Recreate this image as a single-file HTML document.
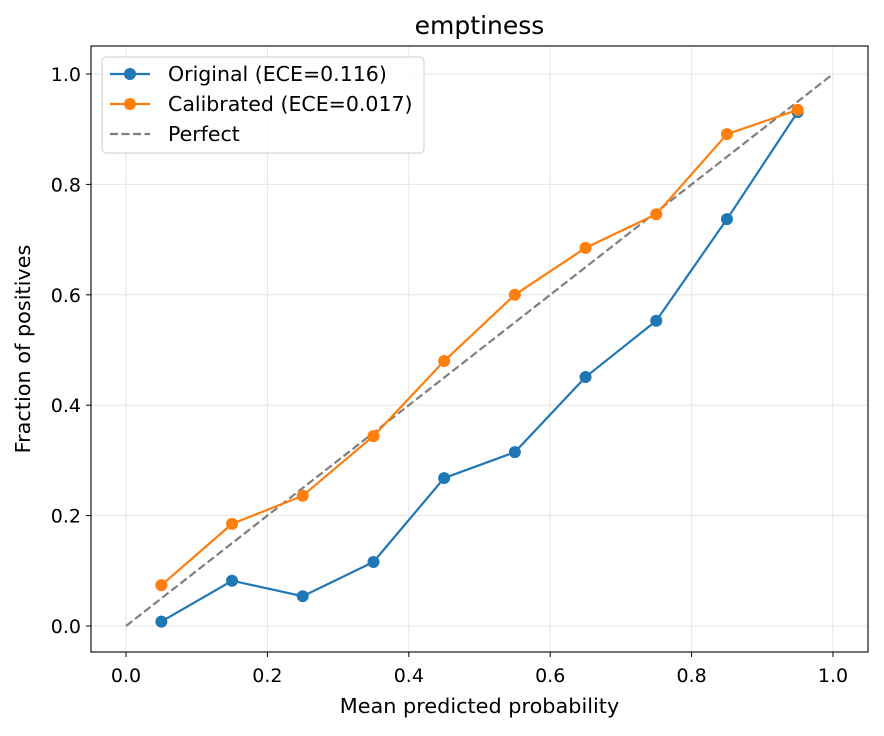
<!DOCTYPE html>
<html><head><meta charset="utf-8"><style>
body{margin:0;background:#fff;font-family:"Liberation Sans","DejaVu Sans",sans-serif;}
svg text{font-family:"DejaVu Sans","Liberation Sans",sans-serif;}
</style></head><body>
<svg id="chart" width="884" height="731" viewBox="0 0 884 731" xmlns="http://www.w3.org/2000/svg">
<rect width="884" height="731" fill="#fff"/>
<g id="grid"></g>
<g id="axes"></g>
<g id="series"></g>
<rect x="91" y="46" width="777" height="606" fill="none" stroke="#000" stroke-width="1.1"/>
<text x="479.5" y="34" font-size="25" text-anchor="middle">emptiness</text>
<text x="479.5" y="713" font-size="20.8" text-anchor="middle">Mean predicted probability</text>
<text x="30" y="349" font-size="20.8" text-anchor="middle" transform="rotate(-90 30 349)">Fraction of positives</text>
<g>
<rect x="102" y="57" width="322" height="96" rx="4" fill="#fff" fill-opacity="0.8" stroke="#ccc"/>
<g><line x1="110" y1="74" x2="150" y2="74" stroke="#1f77b4" stroke-width="2.2"/><circle cx="130" cy="74" r="6" fill="#1f77b4"/><text x="168" y="81" font-size="20.5">Original (ECE=0.116)</text></g>
<g><line x1="110" y1="104" x2="150" y2="104" stroke="#ff7f0e" stroke-width="2.2"/><circle cx="130" cy="104" r="6" fill="#ff7f0e"/><text x="168" y="111" font-size="20.5">Calibrated (ECE=0.017)</text></g>
<g><line x1="110" y1="134" x2="150" y2="134" stroke="#7f7f7f" stroke-width="2.2" stroke-dasharray="8,3.5"/><text x="168" y="141" font-size="20.5">Perfect</text></g>
</g>
</svg>
<script>
const binCenters=[0.05,0.15,0.25,0.35,0.45,0.55,0.65,0.75,0.85,0.95];
const originalValues=[0.008,0.082,0.054,0.116,0.268,0.315,0.451,0.553,0.737,0.931];
const calibratedValues=[0.074,0.185,0.236,0.344,0.48,0.6,0.685,0.746,0.891,0.935];
const perfectX=[0,1];
const perfectY=[0,1];
const xTicks=[0,0.2,0.4,0.6,0.8,1.0];
const yTicks=[0,0.2,0.4,0.6,0.8,1.0];
const NS="http://www.w3.org/2000/svg";
const sx=v=>126+v*707, sy=v=>626-v*552;
function mk(tag,attrs,parent){const e=document.createElementNS(NS,tag);for(const k in attrs)e.setAttribute(k,attrs[k]);parent.appendChild(e);return e;}
const grid=document.getElementById('grid'),axes=document.getElementById('axes'),ser=document.getElementById('series');
xTicks.forEach(t=>{
 const g=mk('line',{x1:sx(t),x2:sx(t),y1:46,y2:652,stroke:'#e5e5e5','stroke-width':1},grid);
 
 
 const tk=mk('line',{x1:sx(t),x2:sx(t),y1:652,y2:657,stroke:'#000'},axes);
 
 
 const l=mk('text',{x:sx(t),y:682,'font-size':19,'text-anchor':'middle'},axes);l.textContent=t.toFixed(1);
 
 
});
yTicks.forEach(t=>{
 const g=mk('line',{x1:91,x2:868,y1:sy(t),y2:sy(t),stroke:'#e5e5e5','stroke-width':1},grid);
 
 
 const tk=mk('line',{x1:86,x2:91,y1:sy(t),y2:sy(t),stroke:'#000'},axes);
 
 
 const l=mk('text',{x:81,y:sy(t)+7,'font-size':19,'text-anchor':'end'},axes);l.textContent=t.toFixed(1);
 
 
});
const pf=mk('polyline',{points:perfectX.map((x,i)=>sx(x)+','+sy(perfectY[i])).join(' '),fill:'none',stroke:'#7f7f7f','stroke-width':2.2,'stroke-dasharray':'8,3.5'},ser);


function series(vals,color,name){
 const p=mk('polyline',{points:binCenters.map((x,i)=>sx(x)+','+sy(vals[i])).join(' '),fill:'none',stroke:color,'stroke-width':2.2},ser);
 
 
 binCenters.forEach((x,i)=>{const c=mk('circle',{cx:sx(x),cy:sy(vals[i]),r:6,fill:color},ser);
 
 });
}
series(originalValues,'#1f77b4','original');
series(calibratedValues,'#ff7f0e','calibrated');
</script>
</body></html>
